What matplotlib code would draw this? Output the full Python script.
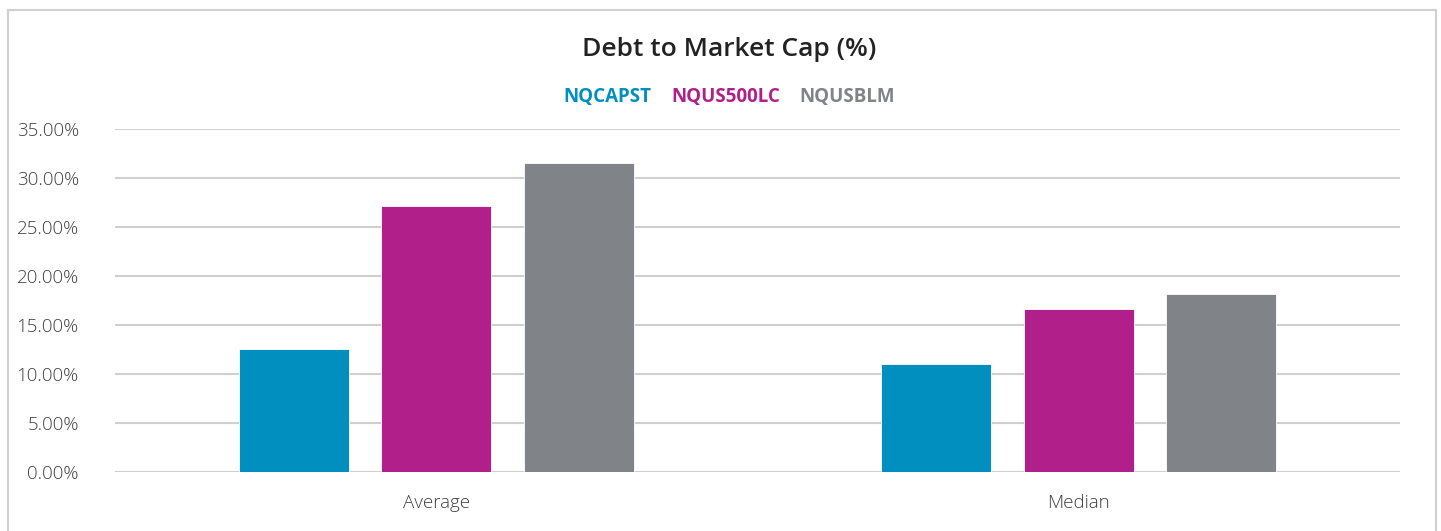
import numpy as np
import matplotlib
matplotlib.use("Agg")
import matplotlib.pyplot as plt
from matplotlib.patches import Rectangle

# values (fractions, shown as %)
categories = ["Average", "Median"]
series_names = ["NQCAPST", "NQUS500LC", "NQUSBLM"]
nqcapst = [0.1255, 0.1102]
nqus500lc = [0.2714, 0.1663]
nqusblm = [0.3149, 0.1819]
yticks = [0.0, 0.05, 0.10, 0.15, 0.20, 0.25, 0.30, 0.35]

colors = ["#008FBE", "#B01F8A", "#808488"]
plt.rcParams["font.family"] = ["Open Sans", "DejaVu Sans"]

fig = plt.figure(figsize=(14.41, 5.31), dpi=100)
ax = fig.add_axes([0.0798, 0.1105, 0.8917, 0.6465])

x = np.arange(len(categories))
w, step = 0.171, 0.222
for i, (vals, c) in enumerate(zip([nqcapst, nqus500lc, nqusblm], colors)):
    ax.bar(x + (i - 1) * step, vals, w, color=c, edgecolor="white", linewidth=0.6, zorder=3)

ax.set_xlim(-0.5, 1.5)
ax.set_ylim(0, 0.35)
ax.set_yticks(yticks)
ax.set_yticklabels(["%.2f%%" % (v * 100) for v in yticks])
ax.set_xticks(x)
ax.set_xticklabels(categories)
ax.grid(axis="y", color="#d0d0d0", linewidth=1.5, zorder=0)
for s in ax.spines.values():
    s.set_visible(False)
ax.tick_params(axis="both", length=0, labelsize=13.5, labelcolor="#404040")
ax.tick_params(axis="y", pad=26)
ax.tick_params(axis="x", pad=15.5)
for lbl in ax.get_xticklabels() + ax.get_yticklabels():
    lbl.set_fontweight("light")

fig.text(0.506, 0.907, "Debt to Market Cap (%)", ha="center", va="center",
         fontsize=19, fontweight="semibold", color="#222222")
# legend drawn as coloured bold words
xs = [0.4215, 0.5039, 0.5878]
for name, c, xp in zip(series_names, colors, xs):
    fig.text(xp, 0.817, name, ha="center", va="center", fontsize=13.5,
             fontweight="bold", color=c)

fig.patches.append(Rectangle((8 / 1441, -0.05), 1 - 13 / 1441, 1.05 - 10 / 531,
                             transform=fig.transFigure, fill=False,
                             edgecolor="#d0d0d0", linewidth=1.5))

fig.savefig("out.png", dpi=100)
